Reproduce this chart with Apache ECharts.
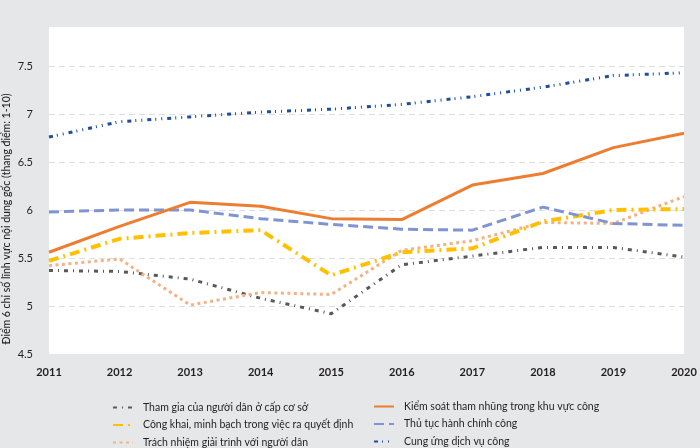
<!DOCTYPE html>
<html><head><meta charset="utf-8">
<script src="https://cdn.jsdelivr.net/npm/echarts@6/dist/echarts.min.js"></script>
<style>html,body{margin:0;padding:0;background:#e6e7e8;}#c{width:700px;height:448px;}</style>
</head><body><div id="c"></div>
<script>
var years = ['2011','2012','2013','2014','2015','2016','2017','2018','2019','2020'];
var thamGia   = [5.37, 5.36, 5.28, 5.08, 4.92, 5.43, 5.52, 5.61, 5.61, 5.51];
var congKhai  = [5.47, 5.70, 5.76, 5.79, 5.32, 5.56, 5.60, 5.88, 6.00, 6.01];
var trachNhiem= [5.42, 5.49, 5.01, 5.14, 5.12, 5.58, 5.68, 5.87, 5.86, 6.14];
var kiemSoat  = [5.56, 5.83, 6.08, 6.04, 5.91, 5.90, 6.26, 6.38, 6.65, 6.80];
var thuTuc    = [5.98, 6.00, 6.00, 5.91, 5.85, 5.80, 5.79, 6.03, 5.86, 5.84];
var cungUng   = [6.76, 6.92, 6.97, 7.02, 7.05, 7.10, 7.18, 7.28, 7.40, 7.43];
var names = ['Tham gia của người dân ở cấp cơ sở','Công khai, minh bạch trong việc ra quyết định','Trách nhiệm giải trình với người dân','Kiểm soát tham nhũng trong khu vực công','Thủ tục hành chính công','Cung ứng dịch vụ công'];
var yTitle = 'Điểm 6 chỉ số lĩnh vực nội dung gốc (thang điểm: 1-10)';

var FONT = 'Lato';
var chart = echarts.init(document.getElementById('c'), null, {renderer:'canvas'});
function s(name, data, color, width, type, z){
  return {name:name, type:'line', data:data, showSymbol:false, symbol:'none', z:z||2,
    lineStyle:{color:color, width:width, type:type, cap:'butt'}, itemStyle:{color:color}};
}
var gTop = 27, gBot = 94;
var legendBase = {orient:'vertical', itemWidth:20, itemHeight:10, itemGap:6.5, padding:0,
  itemStyle:{opacity:0},
  textStyle:{color:'#231f20', fontFamily:FONT, fontSize:10.5, padding:[0,0,0,5]}};
chart.setOption({
  backgroundColor:'#e6e7e8',
  animation:false,
  graphic:[
    {type:'text', x:7, y:219, rotation:Math.PI/2,
     style:{text:yTitle, fill:'#231f20', font:'500 10.5px '+FONT, align:'center', verticalAlign:'middle'}}
  ],
  grid:{left:49, right:16, top:gTop, bottom:gBot, show:true, backgroundColor:'#ffffff', borderWidth:0},
  xAxis:{type:'category', data:years, boundaryGap:false,
    axisLine:{show:false}, axisTick:{show:false},
    axisLabel:{color:'#231f20', fontFamily:FONT, fontSize:11, fontWeight:'bold', margin:13}},
  yAxis:{type:'value', min:4.5, max:4.5 + (448-gTop-gBot)/96, interval:0.5,
    axisLine:{show:false}, axisTick:{show:false},
    axisLabel:{color:'#231f20', fontFamily:FONT, fontSize:11, margin:16, showMaxLabel:false},
    splitLine:{show:true, showMinLine:false, showMaxLine:false, lineStyle:{color:'#dedede', width:1, type:[6,4]}}},
  legend:[
    Object.assign({}, legendBase, {data:[names[0],names[1],names[2]], left:112, top:402}),
    Object.assign({}, legendBase, {data:[names[3],names[4],names[5]], left:373, top:401})
  ],
  series:[
    s(names[0], thamGia, '#595959', 3, [4,5,1,5], 2),
    s(names[1], congKhai, '#ffc000', 4, [10,5,2,5], 3),
    s(names[2], trachNhiem, '#f4b183', 3, [3,3.5], 2),
    s(names[3], kiemSoat, '#ed7d31', 3, 'solid', 4),
    s(names[4], thuTuc, '#7f94d0', 3, [10,5], 3),
    s(names[5], cungUng, '#1f4e9e', 3, [4,4,1,5,1,5], 3)
  ]
});
</script></body></html>
